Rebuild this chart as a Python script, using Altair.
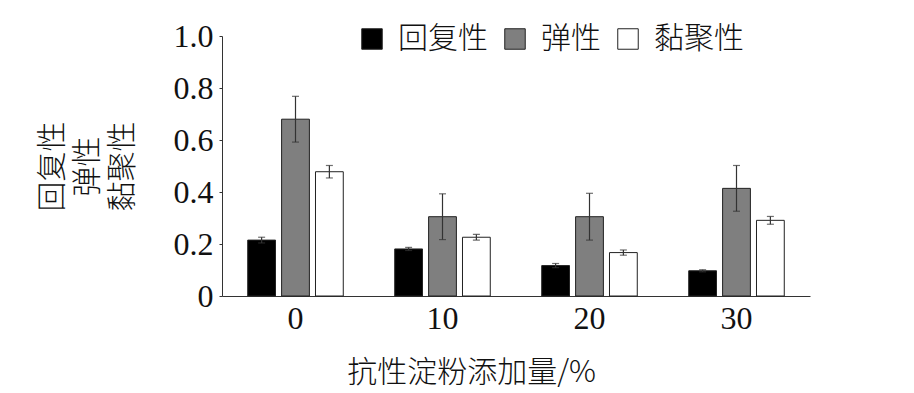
import altair as alt
import pandas as pd

categories = ["0", "10", "20", "30"]
series = ["回复性", "弹性", "黏聚性"]
resilience = [0.215, 0.181, 0.117, 0.097]
resilience_err = [0.011, 0.006, 0.008, 0.004]
springiness = [0.680, 0.305, 0.305, 0.414]
springiness_err = [0.088, 0.088, 0.090, 0.088]
cohesiveness = [0.478, 0.226, 0.167, 0.291]
cohesiveness_err = [0.024, 0.011, 0.010, 0.015]
colors = ["#000000", "#7f7f7f", "#ffffff"]

rows = []
for i, c in enumerate(categories):
    for s, vals, errs in zip(series, [resilience, springiness, cohesiveness],
                             [resilience_err, springiness_err, cohesiveness_err]):
        v, e = vals[i], errs[i]
        rows.append(dict(cat=c, series=s, value=v, lo=v - e, hi=v + e))
df = pd.DataFrame(rows)

x = alt.X("cat:N", sort=categories,
          scale=alt.Scale(paddingInner=0.35, paddingOuter=0.175),
          axis=alt.Axis(title="抗性淀粉添加量/%", labelAngle=0,
                        labelFont="Liberation Serif", labelFontSize=32, labelColor="#111",
                        labelPadding=7, ticks=False,
                        domainColor="#333",
                        titleFont="Noto Sans CJK SC", titleFontSize=30, titleFontWeight=300,
                        titleColor="#111", titleX=249, titleY=61, titleBaseline="top"))
xo = alt.XOffset("series:N", sort=series, scale=alt.Scale(paddingInner=0.18))
y_scale = alt.Scale(domain=[0, 1], nice=False)

bars = alt.Chart(df).mark_bar(stroke="#222", strokeWidth=1).encode(
    x=x, xOffset=xo,
    y=alt.Y("value:Q", scale=y_scale,
            axis=alt.Axis(values=[0, 0.2, 0.4, 0.6, 0.8, 1.0],
                          labelExpr="datum.value == 0 ? '0' : format(datum.value, '.1f')",
                          labelFont="Liberation Serif", labelFontSize=32, labelColor="#111",
                          tickSize=3, labelPadding=6, grid=False,
                          domainColor="#333", tickColor="#333",
                          title=["回复性", "弹性", "黏聚性"],
                          titleFont="Noto Sans CJK SC", titleFontSize=30,
                          titleFontWeight=300, titleColor="#111",
                          titleLineHeight=35, titlePadding=36)),
    color=alt.Color("series:N", sort=series,
                    scale=alt.Scale(domain=series, range=colors),
                    legend=alt.Legend(orient="none", legendX=135, legendY=-12,
                                      direction="horizontal", title=None,
                                      symbolType="square", symbolSize=420,
                                      symbolStrokeColor="#222", symbolStrokeWidth=1,
                                      labelFont="Noto Sans CJK SC", labelFontSize=30,
                                      labelFontWeight=300,
                                      labelColor="#111", labelOffset=11,
                                      columnPadding=12)),
)

rules = alt.Chart(df).mark_rule(color="#333", strokeWidth=1.2).encode(
    x=x, xOffset=xo, y=alt.Y("lo:Q", scale=y_scale), y2="hi:Q")
cap_hi = alt.Chart(df).mark_tick(orient="horizontal", size=7, thickness=1.2, color="#333").encode(
    x=x, xOffset=xo, y=alt.Y("hi:Q", scale=y_scale))
cap_lo = alt.Chart(df).mark_tick(orient="horizontal", size=7, thickness=1.2, color="#333").encode(
    x=x, xOffset=xo, y=alt.Y("lo:Q", scale=y_scale))

chart = alt.layer(bars, rules, cap_hi, cap_lo).properties(
    width=588, height=260,
    autosize=alt.AutoSizeParams(type="none"),
    padding={"left": 214, "top": 28, "right": 90, "bottom": 96},
).configure_view(stroke=None)

chart.save("out.html", embed_options={"renderer": "svg", "actions": False})
